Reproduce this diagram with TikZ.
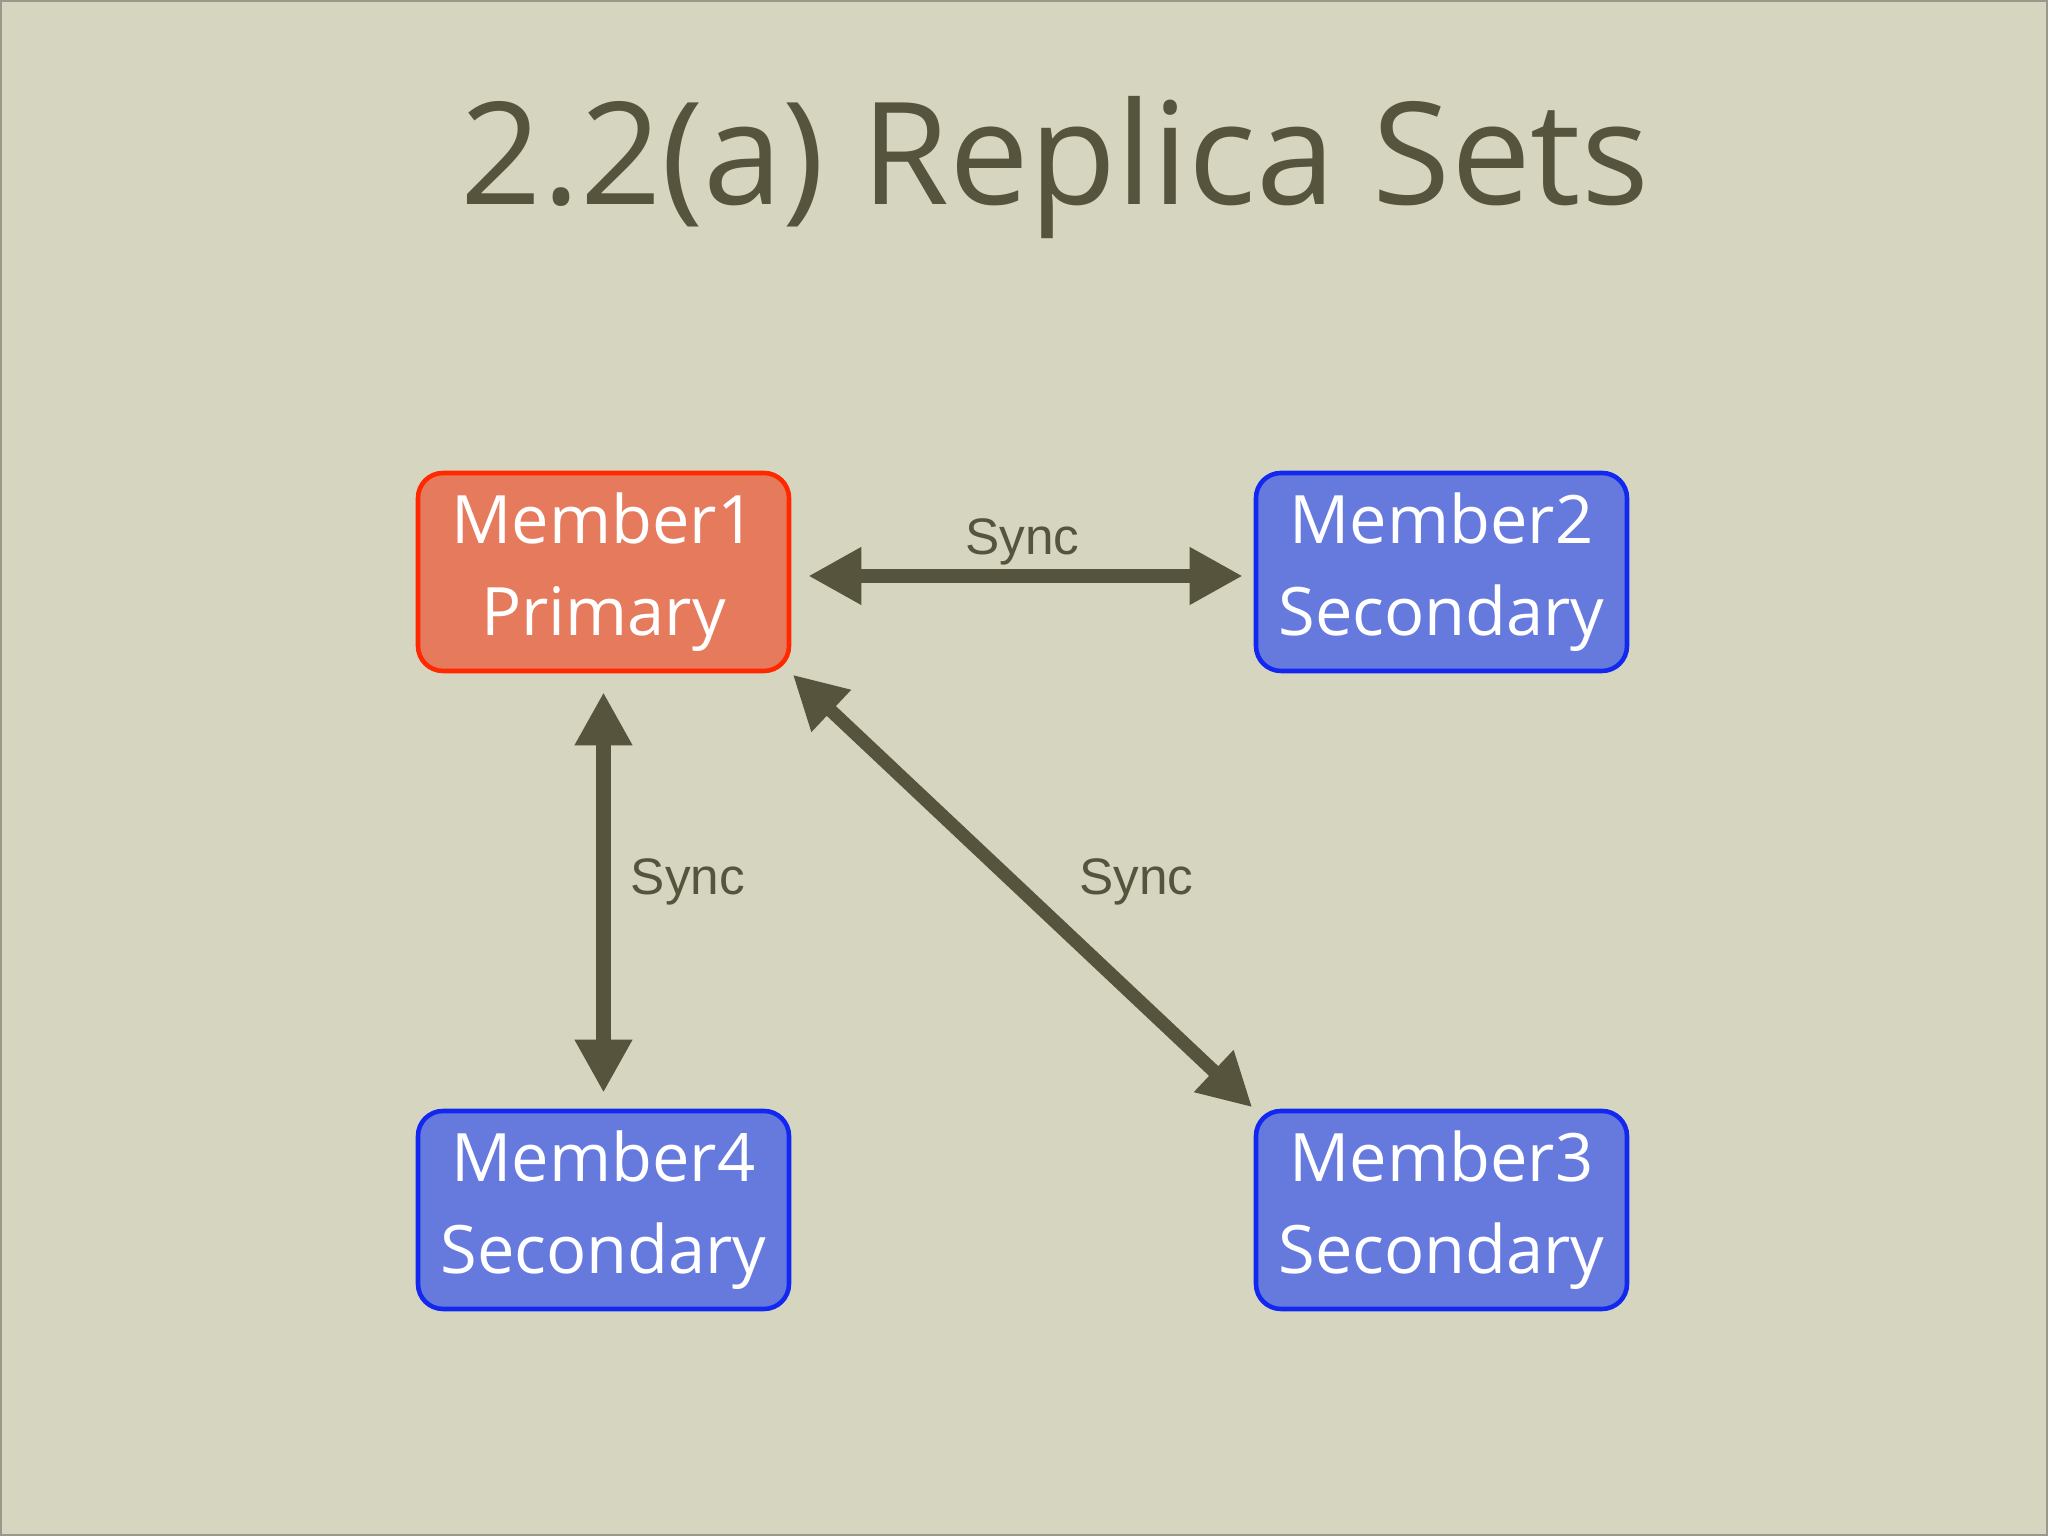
\documentclass[tikz,border=0pt]{standalone}
\usepackage{fontspec}
\setmainfont{Open Sans}
\newfontfamily\syncfont{Liberation Sans}
\usetikzlibrary{arrows.meta}
\definecolor{paper}{RGB}{214,214,192}
\definecolor{olive}{RGB}{86,84,60}
\definecolor{primfill}{RGB}{230,122,92}
\definecolor{primline}{RGB}{255,40,0}
\definecolor{secfill}{RGB}{102,122,222}
\definecolor{secline}{RGB}{18,40,240}
\tikzset{
	member/.style={rounded corners=0.25cm, line width=1.3pt, minimum width=3.71cm, minimum height=1.98cm, align=center, text=white, font=\fontsize{19}{26}\selectfont},
	primary/.style={member, draw=primline, fill=primfill},
	secondary/.style={member, draw=secline, fill=secfill},
	syncarrow/.style={draw=olive, line width=4.2pt, {Triangle[length=5.3mm,width=5.4mm]}-{Triangle[length=5.3mm,width=5.4mm]}},
	synclabel/.style={text=olive, inner sep=0pt, font=\syncfont\fontsize{14.6}{16}\selectfont}
}
\begin{document}
\begin{tikzpicture}
			%%%%% START %%%%%
			
			\useasboundingbox (0, 0) rectangle (20.48, 15.36);
			\fill[paper] (0, 0) rectangle (20.48, 15.36);
			\draw[line width=0.02cm, color=olive!60] (0.01, 0.01) rectangle (20.47, 15.35);
			
			\node[anchor=base, text=olive, font=\fontsize{40.5}{44}\selectfont] (title) at (10.55, 13.31) {2.2(a) Replica Sets};
			
			\node[primary] (m1) at (6.035, 9.64) {Member1\\Primary};
			\node[secondary] (m2) at (14.415, 9.64) {Member2\\Secondary};
			\node[secondary] (m3) at (14.415, 3.26) {Member3\\Secondary};
			\node[secondary] (m4) at (6.035, 3.26) {Member4\\Secondary};
			
			\draw[syncarrow, shorten <=0.17cm, shorten >=0.11cm] ([yshift=-0.04cm]m1.east) -- ([yshift=-0.04cm]m2.west)
				node[synclabel, midway, anchor=base, yshift=0.21cm] (s12) {Sync};
			\draw[syncarrow, shorten <=0.19cm, shorten >=0.16cm] (m1.south) -- (m4.north)
				node[synclabel, midway, anchor=west, xshift=0.2cm, yshift=0.09cm] (s14) {Sync};
			\draw[syncarrow, line width=3.8pt, shorten <=0.02cm, shorten >=0.02cm] (m1.south east) -- (m3.north west)
				node[synclabel, midway, anchor=west, xshift=0.5cm, yshift=0.09cm] (s13) {Sync};
			
			%%%%% END %%%%%
\end{tikzpicture}
\end{document}
